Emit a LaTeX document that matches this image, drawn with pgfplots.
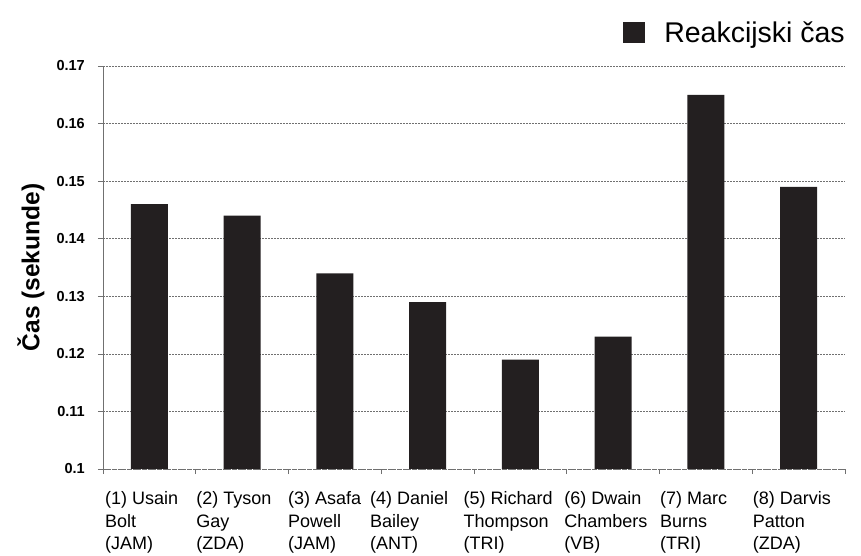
\documentclass[border=0pt]{standalone}
\usepackage{fontspec}
\setmainfont{Liberation Sans}
\usepackage{pgfplots}
\pgfplotsset{compat=1.18}
\definecolor{barc}{HTML}{231F20}
\definecolor{gridc}{HTML}{707070}
\newcommand{\lab}[4]{\hspace*{#1}\begin{tabular}[t]{@{}l@{}}#2\\#3\\#4\end{tabular}}
\begin{document}
\begin{tikzpicture}[x=1pt,y=1pt]
\useasboundingbox (-103pt,-87pt) rectangle (758pt,469pt);
\begin{axis}[
  at={(0pt,0pt)}, anchor=south west,
  scale only axis, width=742pt, height=403pt,
  ybar, bar width=37pt,
  xmin=-0.5, xmax=7.5,
  ymin=0.1, ymax=0.17,
  axis lines=left,
  axis line style={-},
  x axis line style={gridc, densely dashed, line width=0.6pt},
  y axis line style={gridc, line width=0.6pt},
  ytick={0.1,0.11,0.12,0.13,0.14,0.15,0.16,0.17},
  yticklabels={0.1,0.11,0.12,0.13,0.14,0.15,0.16,0.17},
  ymajorgrids,
  major grid style={gridc, dash pattern=on 2pt off 1pt, line width=0.6pt},
  tick align=outside,
  major tick length=5pt,
  tick style={gridc, line width=0.6pt},
  xtick={-0.5,0.5,1.5,2.5,3.5,4.5,5.5,6.5,7.5},
  xticklabels={},
  extra x ticks={0,1,2,3,4,5,6,7},
  extra x tick style={major tick length=0pt, tick style={draw=none}},
  extra x tick labels={
    {\lab{1.6pt}{(1) Usain}{Bolt}{(JAM)}},
    {\lab{0pt}{(2) Tyson}{Gay}{(ZDA)}},
    {\lab{-1pt}{(3) Asafa}{Powell}{(JAM)}},
    {\lab{-11.6pt}{(4) Daniel}{Bailey}{(ANT)}},
    {\lab{-11pt}{(5) Richard}{Thompson}{(TRI)}},
    {\lab{-3pt}{(6) Dwain}{Chambers}{(VB)}},
    {\lab{0pt}{(7) Marc}{Burns}{(TRI)}},
    {\lab{0pt}{(8) Darvis}{Patton}{(ZDA)}}},
  xticklabel style={anchor=north west, inner sep=0pt, xshift=-46pt, yshift=-20pt,
    font=\fontsize{18}{22.5}\selectfont, text=black},
  yticklabel style={inner sep=0pt, xshift=-13pt, font=\fontsize{14.5}{16}\selectfont\bfseries, text=black},
  /pgf/number format/assume math mode=true,
  ylabel={Čas (sekunde)},
  ylabel style={at={(axis description cs:-0.097,0.5)}, anchor=center, font=\fontsize{24.5}{28}\selectfont\bfseries},
  legend style={at={(axis description cs:1,1)}, anchor=east, yshift=33pt,
    draw=none, fill=none, inner sep=0pt, font=\fontsize{28.5}{31}\selectfont,
    nodes={inner sep=0pt}, cells={anchor=west}},
  legend image code/.code={\fill[barc] (0pt,-10.5pt) rectangle (21.5pt,10.5pt); \path (41pt,0pt);},
]
\addplot[fill=barc, draw=none] coordinates {
  (0,0.146) (1,0.144) (2,0.134) (3,0.129) (4,0.119) (5,0.123) (6,0.165) (7,0.149)};
\addlegendentry{Reakcijski čas}
\end{axis}
\end{tikzpicture}
\end{document}
